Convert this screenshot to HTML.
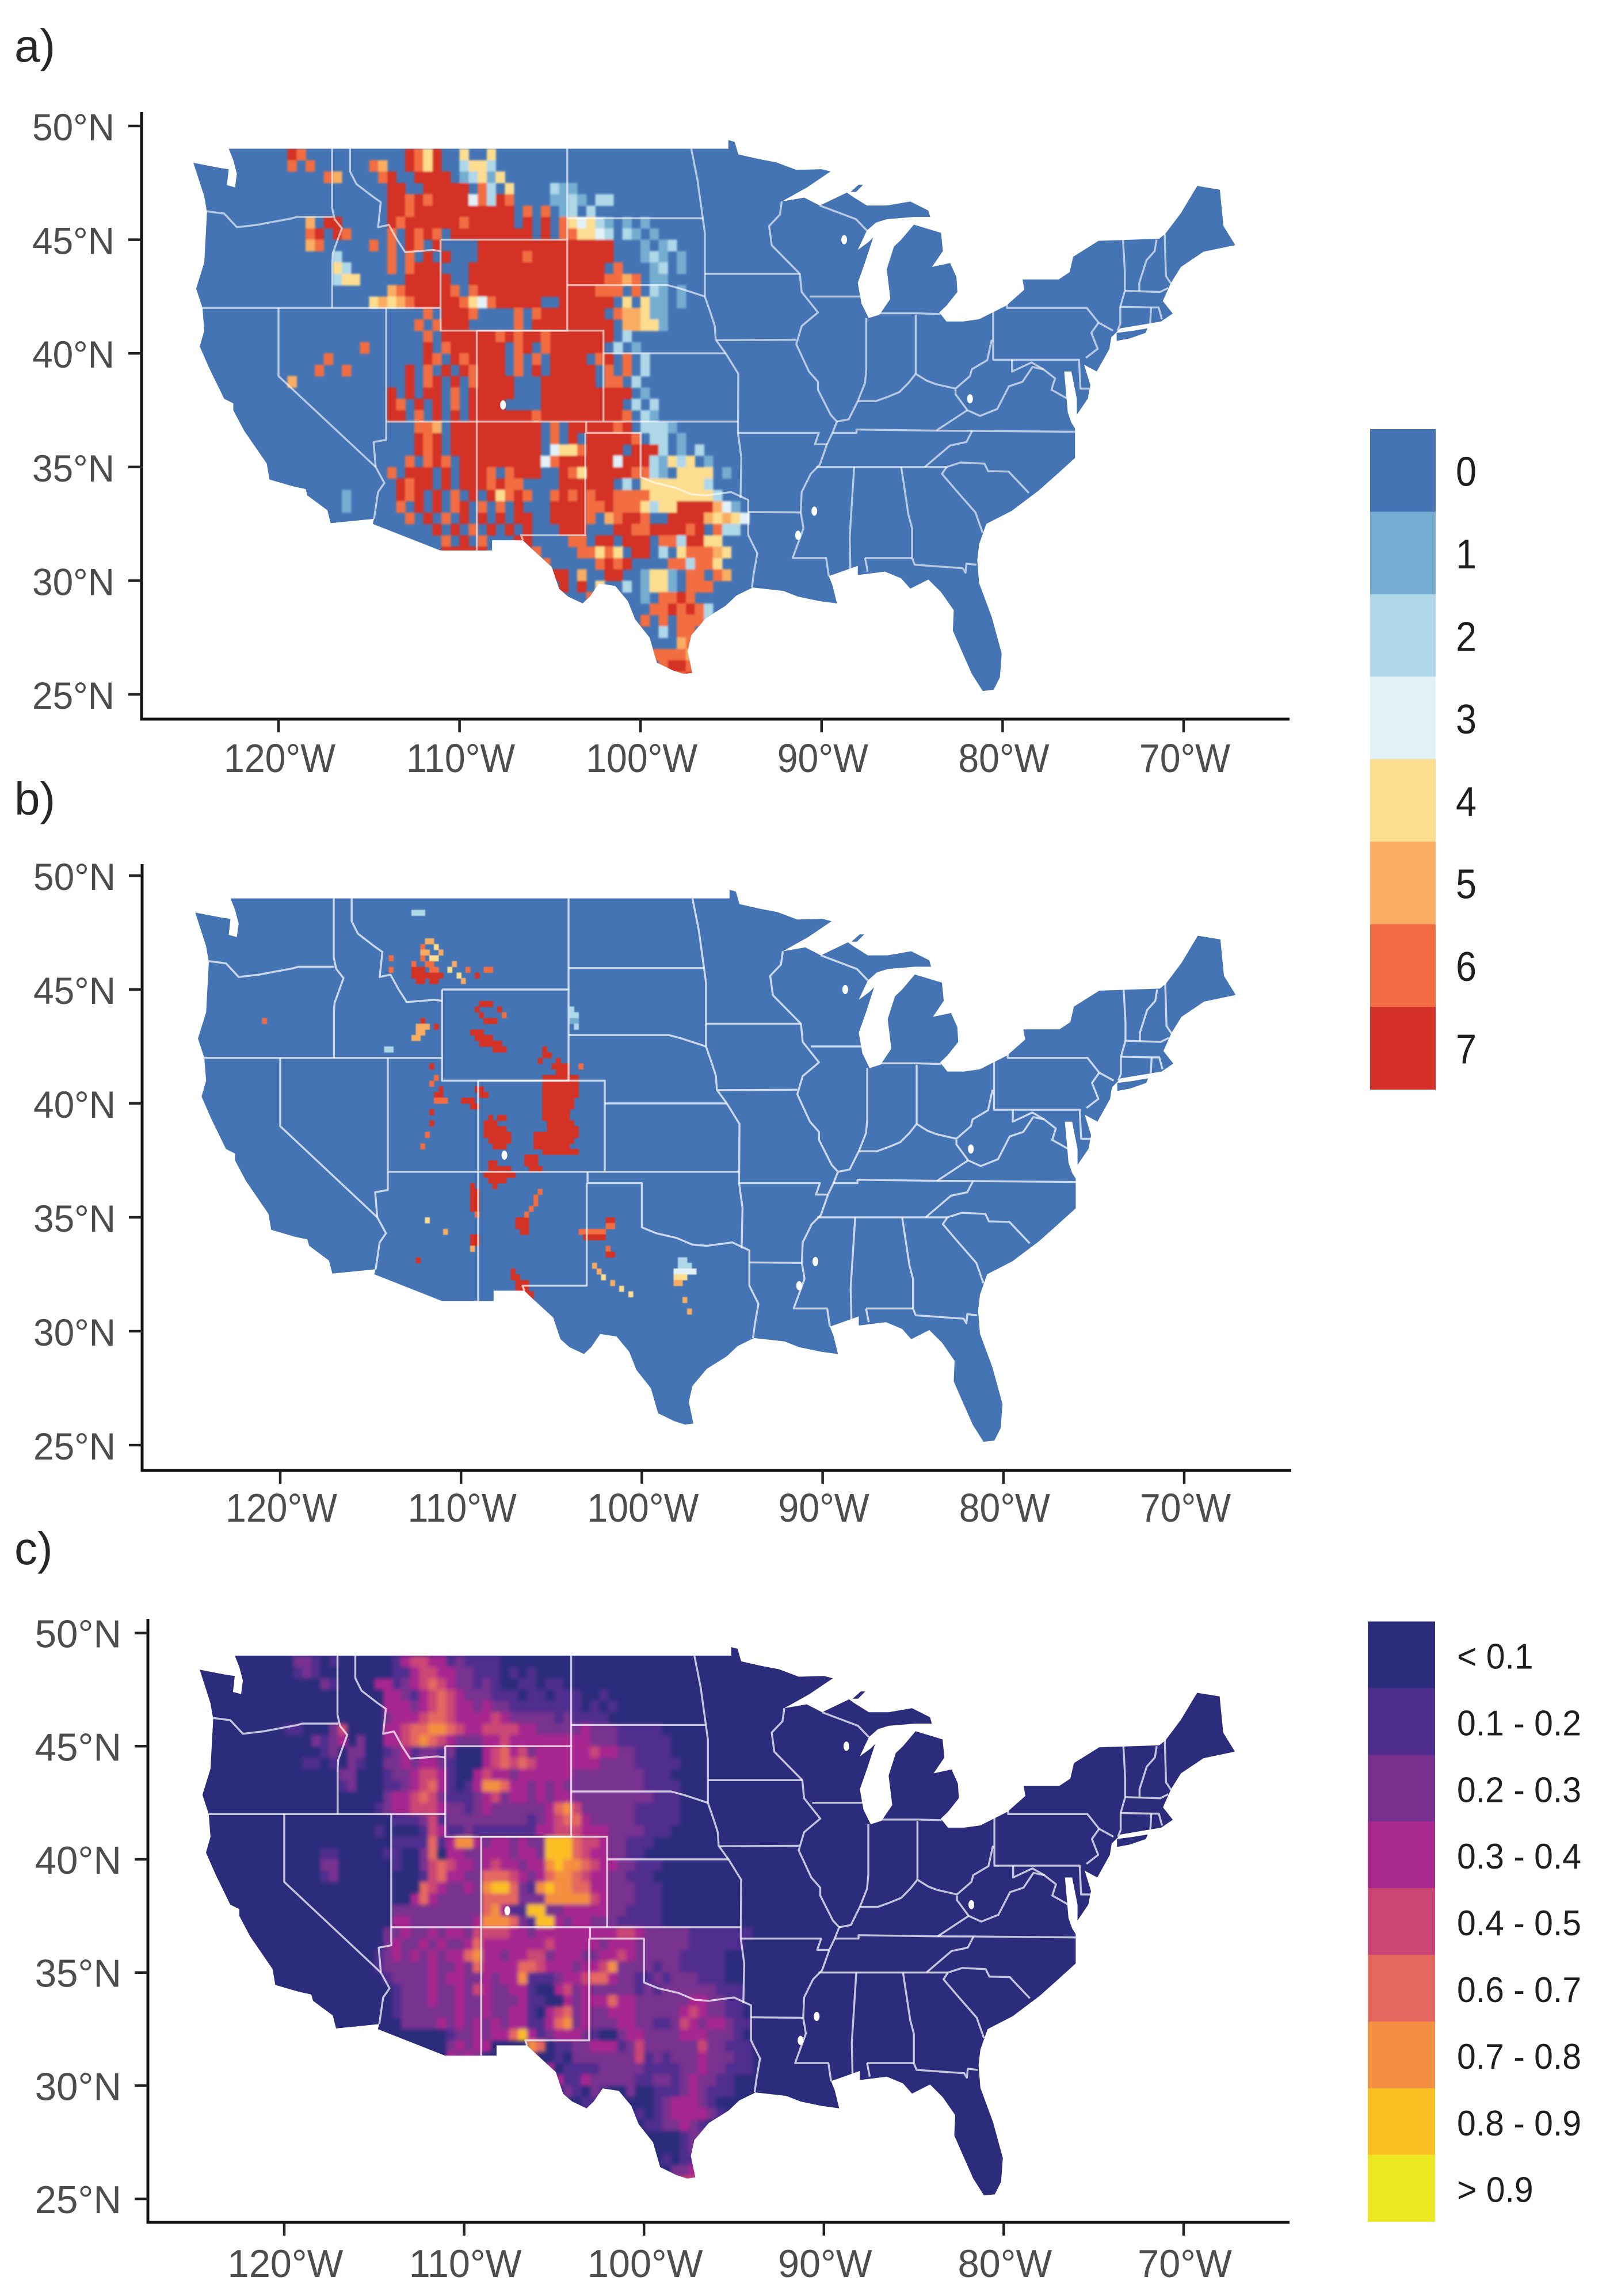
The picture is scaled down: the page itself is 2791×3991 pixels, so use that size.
<!DOCTYPE html>
<html lang="en">
<head>
<meta charset="utf-8">
<title>CONUS maps of classified values</title>
<style>
html,body{margin:0;padding:0;background:#fff;}
svg{display:block;}
text{font-family:"Liberation Sans",sans-serif;}
</style>
</head>
<body>
<svg id="chart" xmlns="http://www.w3.org/2000/svg" width="2791" height="3991" viewBox="0 0 2791 3991">
<rect x="0" y="0" width="2791" height="3991" fill="#ffffff"/>
</svg>
<script>
const lonTickValues = [120, 110, 100, 90, 80, 70];
const latTickValues = [50, 45, 40, 35, 30, 25];
const legendCountLabels = ["0", "1", "2", "3", "4", "5", "6", "7"];
const legendCountColors = ["#4474b4", "#74add1", "#aed8e8", "#e2f1f6", "#fddd8f", "#f9ad63", "#f26d43", "#d53027"];
const legendProbLabels = ["< 0.1", "0.1 - 0.2", "0.2 - 0.3", "0.3 - 0.4", "0.4 - 0.5", "0.6 - 0.7", "0.7 - 0.8", "0.8 - 0.9", "> 0.9"];
const legendProbColors = ["#2b2c7c", "#4f2d8f", "#78308f", "#a8288f", "#cb4675", "#e4685f", "#f48f41", "#fbbf24", "#ebe723"];

/* national outline, lon/lat degrees */
const outlinePoints = [
[-124.7,48.38],[-123.2,48.15],[-122.75,48.1],[-122.85,47.4],[-122.4,47.3],[-122.3,47.9],[-122.5,48.5],[-122.75,49],
[-95.15,49],[-95.15,49.38],[-94.8,49.3],[-94.6,48.75],[-93.5,48.55],[-92.5,48.4],[-91.4,48.07],[-90,48.1],[-89.5,48],
[-90.8,47.3],[-92.2,46.68],[-90.96,46.85],[-90.1,46.5],[-88.6,47.07],[-88.3,46.9],[-87.5,46.5],
[-86.4,46.5],[-85.1,46.68],[-84.1,46.28],[-84,46],[-84.9,46],[-86.4,45.9],[-87,45.75],[-87.5,45.4],
[-88,44.55],[-87.4,44.9],[-87.15,45.1],[-87.6,44],[-88,43.1],[-87.8,42.2],[-87.4,41.55],[-86.8,41.7],[-86.2,42.4],
[-86.4,43.7],[-86,44.7],[-85.6,45],[-84.9,45.66],[-83.4,45.3],[-83.3,44.5],[-83.9,43.8],[-82.9,43.97],
[-82.55,43.35],[-82.5,42.7],[-83.1,42.1],[-83.5,41.8],[-83.1,41.4],[-82.2,41.4],[-81.3,41.5],[-79.8,42.1],
[-78.8,42.8],[-78.9,43.25],[-76.9,43.25],[-76.3,43.57],[-76.1,44.25],[-74.7,44.95],[-71.35,45.04],[-71,45.27],
[-70.15,46.17],[-69.25,47.36],[-68,47.2],[-67.8,45.6],[-67.15,44.76],[-68.9,44.47],[-70.15,43.8],[-70.7,43.1],
[-71.15,42.3],[-70.6,41.75],[-71.25,41.4],[-73.5,41.1],[-74,40.7],[-74.1,40.2],[-74.8,39.2],
[-75.5,39.5],[-75.15,38.6],[-75.3,38],[-75.9,37.3],[-75.9,38],[-76.2,39.2],[-76.6,39.2],[-76.5,38.3],[-76.4,37.4],[-76.2,36.95],
[-76,36.7],[-76,35.4],[-76.9,34.75],[-78,33.97],[-79.5,33.07],[-80.9,32.5],[-81.3,31.6],[-81.4,30.9],
[-81.3,29.9],[-80.6,28.4],[-80.05,26.8],[-80.15,25.75],[-80.5,25.2],[-81.1,25.15],[-81.7,25.9],[-82.2,26.8],[-82.75,27.8],
[-82.7,28.7],[-83.4,29.5],[-84.1,30.05],[-85.1,29.65],[-85.6,30.1],[-86.5,30.4],[-88,30.25],[-88,30.65],[-88.9,30.4],
[-89.6,30.2],[-89.4,29.8],[-89.15,29],[-90.1,29.1],[-91.3,29.3],[-92.1,29.55],[-93.8,29.7],[-94.7,29.35],[-95.3,28.9],
[-96.4,28.35],[-97.2,27.6],[-97.4,26.9],[-97.15,25.95],[-97.6,25.9],[-98.2,26.05],[-99.1,26.4],[-99.5,27.5],[-100.3,28.3],
[-100.7,29.1],[-101.4,29.77],[-102.3,29.88],[-102.8,29.3],[-103.2,29],[-104,29.3],[-104.5,29.65],[-104.9,30.6],[-106,31.4],
[-106.5,31.78],[-108.2,31.78],[-108.2,31.33],[-111.07,31.33],[-114.8,32.5],[-114.72,32.72],[-117.12,32.53],[-117.3,33.1],
[-118.4,33.75],[-118.5,34.03],[-119.2,34.15],[-120.5,34.45],[-120.65,35.15],[-121.9,36.6],[-122.5,37.5],[-122.5,37.8],
[-123,38],[-123.8,39.3],[-124.35,40.3],[-124.1,41],[-124.2,42],[-124.55,42.85],[-124.1,44],[-123.95,46.2],[-124.1,46.9]
];

/* detached land shown in the raster, lon/lat degrees */
const islandLongIsland = [[-73.7,40.9],[-72.9,40.98],[-72,41.1],[-72.1,40.9],[-73,40.65],[-73.7,40.55]];
const islandKeweenaw = [[-88.4,47.1],[-87.95,47.42],[-87.7,47.42],[-88.1,47.1]];

/* state borders, lon/lat degrees */
const stateBorderLines = [
[[-117.04,49],[-117.04,46.4],[-116.9,45.9],[-116.5,45.5],[-117,44.4],[-117.03,44],[-117.03,42]],
[[-124,46.25],[-123,46.15],[-122.3,45.55],[-121.2,45.65],[-119.3,45.93],[-119,46],[-117,46]],
[[-124.2,42],[-111.05,42]],
[[-120,42],[-120,39],[-114.63,35]],
[[-114.05,42],[-114.05,36.2],[-114.75,36.1],[-114.63,35],[-114.15,34.3],[-114.5,33.9],[-114.72,32.72]],
[[-114.05,37],[-94.62,37]],
[[-109.05,41],[-109.05,31.33]],
[[-111.05,45],[-104.05,45],[-104.05,41],[-111.05,41],[-111.05,45]],
[[-109.05,41],[-102.05,41],[-102.05,37]],
[[-116.05,49],[-116.05,48],[-115.7,47.45],[-114.8,46.9],[-114.35,46.65],[-114.5,45.55],[-113.9,45.65],[-113.45,45],[-113,44.45],[-112.2,44.5],[-111.5,44.55],[-111.05,44.5]],
[[-104.05,49],[-104.05,45]],
[[-104.05,45.94],[-96.56,45.94]],
[[-104.05,43],[-98.5,43],[-97.8,42.85],[-96.45,42.5]],
[[-102.05,40],[-95.3,40]],
[[-97.2,49],[-96.85,47.6],[-96.56,45.94],[-96.45,45.3],[-96.45,42.5],[-96.1,41.7],[-95.9,41.2],[-95.85,40.6],[-95.3,40],[-94.6,39.1],[-94.62,36.5],[-94.43,35.4],[-94.48,33.64]],
[[-96.45,43.5],[-91.2,43.5]],
[[-95.8,40.58],[-91.4,40.6]],
[[-103,37],[-103,36.5],[-100,36.5],[-100,34.56],[-99.2,34.3],[-98.1,34.1],[-97.2,33.8],[-96.4,33.75],[-95,33.9],[-94.05,33.55],[-94.05,32],[-93.55,31.2],[-93.75,30.3],[-93.85,29.7]],
[[-103.05,36.5],[-103.05,32],[-106.6,32],[-106.5,31.78]],
[[-94.05,33.02],[-91.15,33]],
[[-94.62,36.5],[-90.15,36.5],[-90.37,36],[-89.7,36]],
[[-92.2,46.68],[-92.3,46.1],[-92.9,45.6],[-92.75,44.75],[-91.2,43.5],[-91.1,42.7],[-90.2,41.8],[-91.1,41.2],[-91.4,40.4],[-90.7,39.2],[-90.2,38.75],[-90.2,38.4],[-89.5,37.3],[-89.15,37],[-89.4,36.5],[-89.7,36],[-90.1,35.1],[-90.6,34.7],[-91.1,33.9],[-91.15,33],[-91,32.3],[-91.6,31],[-89.75,31],[-89.6,30.2]],
[[-90.65,42.5],[-87.8,42.5]],
[[-90.1,46.5],[-88.1,45.9],[-87.5,45.4]],
[[-87.53,41.55],[-87.53,39.3],[-87.6,38.7],[-88,37.9],[-88.5,37.1],[-89.15,37]],
[[-88,37.9],[-87,37.9],[-86.3,38.1],[-85.7,38.3],[-85.2,38.7],[-84.8,39.1],[-84.2,38.8],[-83.7,38.65],[-82.6,38.45],[-81.8,39],[-81.7,39.3],[-80.85,39.7],[-80.6,40.6]],
[[-80.52,41.97],[-80.52,39.72],[-75.78,39.72],[-75.7,38.45],[-75.05,38.45]],
[[-84.8,39.1],[-84.8,41.7]],
[[-87,41.76],[-84.8,41.76],[-83.45,41.73]],
[[-79.76,42.27],[-79.76,42],[-75.35,42],[-74.7,41.35],[-73.9,41]],
[[-74.7,41.35],[-75.1,40.9],[-74.75,40.2],[-75.4,39.8]],
[[-79.48,39.72],[-79.48,39.2],[-78.4,39.6],[-77.75,39.3],[-77.1,38.9],[-77.3,38.4],[-76.3,37.95]],
[[-77.75,39.3],[-78.35,39.4],[-78.9,38.75],[-79.65,38.55],[-80.3,37.55],[-81.25,37.25],[-81.95,37.5],[-82.6,38.2],[-82.6,38.4]],
[[-81.95,37.5],[-83.67,36.6]],
[[-89.4,36.5],[-88.07,36.5],[-88.07,36.65],[-83.67,36.6],[-81.68,36.59],[-76,36.55]],
[[-81.68,36.59],[-82,36.1],[-82.9,35.95],[-84.3,35]],
[[-90.3,35],[-83.1,35],[-82.3,35.2],[-81,35.15],[-80.8,34.82],[-79.67,34.8],[-78.55,33.86]],
[[-83.1,35],[-83.35,34.7],[-82.6,34],[-81.5,33],[-81.1,32.1]],
[[-85.6,35],[-85.2,32.9],[-85,32.3],[-85,31],[-84.85,30.7],[-82.2,30.55],[-82.05,30.35],[-82,30.75],[-81.45,30.7]],
[[-87.6,31],[-85,31]],
[[-87.6,31],[-87.45,30.4]],
[[-88.2,35],[-88.45,31.9],[-88.4,30.25]],
[[-73.35,45],[-73.25,43.6],[-73.25,42.75],[-73.5,42.05],[-73.5,41.3],[-73.65,41]],
[[-71.5,45],[-71.6,44.5],[-72.05,44.1],[-72.45,43.1],[-72.45,42.73]],
[[-73.25,42.75],[-71.3,42.7],[-70.85,42.88]],
[[-73.5,42.05],[-71.8,42.02],[-71.38,42.02],[-71.2,41.5]],
[[-71.8,42.02],[-71.85,41.32]],
[[-71.05,45.3],[-70.98,43.4],[-70.7,43.07]]
];

/* small inland water bodies, lon/lat degrees */
const waterSpotLon = [-107.6, -88.75, -81.8, -90.4, -91.3];
const waterSpotLat = [37.73, 45.0, 38.0, 33.06, 32.0];

/* panel a raster: 0.5 degree rows from 49N, columns from 124W in blocks of ten, '.' = class 0 */
const panelACounts = [
".........7 6......... ..7647..4. .4",
".........6 .6......65 ..7647..24 42",
". ...65....6 7..7777.12 414",
". . 77..77777. 62.4....21 1",
". . 7767677773 6276....11 21.22",
". . 7767777777 7777.6.6.1 2.2",
". .5.77..... 7677777767 7777.7.7.6 43421.1.1",
". .67.76.... 6.7676.777 777777.7.6 64432.21.1",
". .56.....6. 6.76.7.... 7777777777 77777...1. 12",
". ....2..... 6.6.7.7... 7777767777 77777...12 1.1",
". ....42.... 6.6777...7 7777777777 7777.6...1 2.1",
". ....244... ..77777..7 7777777777 77776656.1 1",
". . 56777776.6 7777777777 777666.6.2 1.1",
". ........45 4567777764 3677777..7 77777.4.41 1.1",
". . ....6.7776 ....6.6777 7777.65541 1",
". . ...6.6777. ....6.7777 77777.5544 1",
". . ....6.7777 7767677677 77777.2",
". .......6.. ....7.6777 777.67.677 7777.2.1",
". ...6...... ....76.767 777.6.6.77 77.67.6.2",
". ..6..6.... ..7.6.7.76 777.6.7.77 777.6.6.2",
".........5 . ..7.67.7.6 7777...777 777.66.2",
". . 7.7.77.6.7 7777...777 7777777.1",
". . 76.7.7.6.7 777....777 777777.2.2",
". . 77.6.7.7.7 7777776777 7777776.21",
". . ...665.777 7777777.6. 7777767.22 21",
". . ...767.777 7777777.6. 7.777776.2 2.1",
". . ...767.777 7777777.34 467777.777 2.1.2",
". . ..6.676.77 7777777367 7777737772 1424.1",
". . 6.777.7.77 76.6777..7 6477777662 1.4444.1",
". . .7677.7.77 76766....7 77777.2.44 444442",
". .....1.... .767.7.6.7 .74676..67 6767766664 4444442",
". .....1.... .6.7.7.67. 6.6.7...77 7766766642 447777531",
". . ..6.7.6.7. 7.7.77..77 776.56776. .777754543",
". . .....7.7.6 .7.7.7...7 77...77667 77767.622",
". . ......6.7. 6...77.... 66.77.777. 6627744",
". . ......7777 7.....6... .66464.77. 2.466654",
". . . .......6.. ...6767... .662664",
". . . ........77 .5..77..14 41.66.65",
". . . .........7 .7.4..2.14 41.666",
". . . . ..6.....1. 6676",
". . . . .........6 676762",
". . . . ........6. 6.6662",
". . . . . 2.66",
". . . . . ..565",
". . . . .........6 66656",
". . . . . 6776.6",
". . . . . .6676"
];

/* panel c raster: same grid, digits index the probability legend, '.' = class 0 */
const panelCProbs = [
".........2 21.1...... 1344331211 11",
".........1 21........ 1134433221 11.1.1",
". ..21....33 1234543221 21..11.11",
". .........3 3213454322 2111.11.11 1..1",
". .........3 3323454332 3221111111 1.1.1",
". .........2 3334554333 3432222212 1111",
"........11 ...24....3 3455665433 4444332222 2322211111",
". .2123.2..3 3456543222 3343333333 3322211111 1",
". ..12.22..1 2312212... 3453423333 3343322111 1",
". 11.1.21..2 2323321... 3454543333 3332222111 11",
". ....22...1 2234431..3 4332333333 2222222211 1",
". ....12...1 1234531.13 6653323232 2222222211 11",
". .........2 3345421112 3423323233 2222222221 11",
". ........12 3344432212 3222222356 4222222111 11",
". . 1112412222 2222212345 5322222111 11",
". ........1. ...1431121 1111113344 4333222211 1",
". . 1111513663 2332322777 544322111",
". ..11.....1 1..25.3322 3332332777 54332211",
". ..22...... 1..2454332 3433233676 6543322111",
". ..12...... ...1453322 5554323566 543322111",
". . ...5432232 6775216766 5533222111",
". . ..35322222 5555222666 6643222111",
". . 2222222222 5631177223 3333221111",
". . 3322222223 6665217732 3322211111",
". .........2 2322323324 4443323333 3333344322 2221111111",
". .........2 3223232235 3333333433 3332333222 222111111",
". ........12 3232323356 3323344233 3223343222 2211111",
". ........12 2222322325 3333554333 2334622221 2211111",
". .........1 2222323322 3233611123 3455322112 1222111",
". . 1222322324 322331..34 2322222121 222222111",
". . 1222322322 3222311..3 2333533222 222332211",
". . 1222222322 322331.345 2322333222 223432211",
". . .222232323 2323311356 2322233221 1243233211",
". . ......1223 2335731233 321..23322 223332221",
". . ......2323 3....65.11 2233312422 2222422111",
". . ......3232 .....4..1. 2222222412 1222322211",
". . . .......3.1 1112222211 1122322111",
". . . ........31 1322222112 21232211",
". . . .........2 1.21..2..1 11232111",
". . . . .11......1 233321",
". . . . .......1.1 2333321",
". . . . ........11 22321",
". . . . . ..1221",
". . . . . ..1221",
". . . . . 1.1121",
". . . . . .22332",
". . . . . .3443"
];

/* panel b sparse 0.25 degree runs: top latitude, west longitude, cell count, class */
const bRunLat = [48.5,47.25,47,47,46.75,46.75,46.5,46.5,46.25,46.25,46.25,46,46,46,46,46,45.75,45.75,45.75,45.5,45.5,45.5,46.5,46,
44.5,44.25,44.25,44,44,43.75,43.25,43,42.75,42.5,43.75,43.5,43.25,43,43.5,42.5,44.25,44,43.75,43.5,
42.5,42.25,42,42,41.75,41.75,41.5,41.25,41,40.75,40.5,40.25,40,39.75,39.5,39.25,39,38.75,38.75,38.5,38.25,38,
39.5,39.5,39.25,39,38.75,38.5,38.25,37.5,37.25,37,36.75,36.5,37.75,37.5,37.25,
41.75,41.25,41,40.75,40.5,40.25,40.25,40,39.75,39.25,38.75,38.25,40.75,40.5,
36.5,36.25,36,35.75,35.5,35.25,35,34.75,34.5,36.25,36,35.75,35.5,35.25,34.25,34,33.75,33.25,34.5,35,
35,34.75,34.5,34.25,33.75,33.5,33,32.75,32.5,32.25,32,31.75,
32.75,32.5,32.25,32,31.75,31.5,33.25,33,32.75,32.5,32.25,31.5,31,43.75];
const bRunLon = [-112.75,-112,-112.25,-111.5,-112.25,-111.25,-112.25,-111.75,-112.75,-112,-110.5,-112.75,-111.75,-110.75,-109.75,-108.75,-112.75,-110.25,-109.25,-112.5,-111.75,-110,-114,-114,
-109,-109.25,-108,-109,-107.75,-108.75,-109.5,-109.25,-109,-108.25,-112.25,-112.5,-112.5,-112.75,-111.5,-114.25,-104,-104,-104,-103.75,
-105.5,-105.5,-105.75,-104.75,-105,-103.5,-104.75,-105.5,-105.5,-105.5,-105.5,-105.5,-105.5,-105.5,-105.5,-105.25,-105.25,-106,-105.25,-106,-106,-105.5,
-108.5,-108,-108.75,-108.75,-108.75,-108.5,-108.25,-108.5,-108.5,-108.75,-108.5,-108.25,-106.5,-106.5,-106.25,
-111.75,-111.5,-111.75,-111.25,-111.5,-111.5,-110,-109.5,-111.75,-111.75,-112,-112.25,-109.25,-109,
-109.5,-109.5,-109.5,-109.5,-109.5,-109.25,-107,-107,-106.75,-105.75,-106,-106,-106.25,-106.5,-109.5,-109.5,-109.5,-112.5,-111,-112,
-102,-102,-103.5,-103.25,-102,-102,-102.75,-102.5,-102.25,-101.75,-101.25,-100.75,
-107.25,-107.25,-107,-107,-106.75,-106.5,-98,-98,-98.25,-98.25,-98.25,-97.75,-97.5,-121];
const bRunLen = [3,2,1,1,2,1,1,2,1,2,1,3,2,1,1,2,7,1,1,2,2,1,1,1,
3,1,1,1,1,3,3,4,5,3,1,3,2,2,1,2,1,2,2,1,
1,2,1,1,4,1,3,8,8,8,8,7,7,6,6,6,7,3,7,9,8,8,
1,2,3,5,6,5,3,2,5,7,4,1,3,3,3,
1,1,1,1,2,3,3,2,1,1,1,1,2,2,
1,2,2,2,2,1,3,3,2,1,1,1,1,1,2,2,1,1,1,1,
2,2,6,5,1,2,1,1,1,1,1,1,
1,2,3,3,3,2,2,3,5,3,2,1,1,1];
const bRunClass = [2,5,6,4,5,5,6,4,6,6,5,7,6,4,6,6,7,4,7,7,7,5,6,6,
7,7,7,7,6,7,7,7,7,7,7,5,5,5,7,2,2,2,1,2,
7,7,7,7,7,6,7,7,7,7,7,7,7,7,7,7,7,7,7,7,7,7,
7,7,7,7,7,7,7,7,7,7,7,7,7,7,7,
7,6,6,7,7,6,7,7,7,7,6,6,7,7,
7,7,7,7,7,6,7,7,7,6,6,6,6,6,7,7,5,7,5,4,
7,6,6,7,6,7,5,5,4,5,4,4,
7,7,7,7,7,7,2,2,3,4,5,5,5,6];

const SVG_NS = "http://www.w3.org/2000/svg";
const root = document.getElementById("chart");

function mk(tag, attrs, parent) {
  const el = document.createElementNS(SVG_NS, tag);
  for (const k in attrs) el.setAttribute(k, attrs[k]);
  parent.appendChild(el);
  return el;
}

function drawLabel(parent, str, x, y, size, scaleX, anchor, fill) {
  const t = mk("text", {
    transform: "translate(" + x + " " + y + ") scale(" + scaleX + " 1)",
    "font-size": size, "text-anchor": anchor, fill: fill
  }, parent);
  t.textContent = str;
  return t;
}

function expandRow(row) {
  return row.split(" ").map(function (block) {
    return block.slice(0, 10).padEnd(10, ".");
  }).join("");
}

const panels = [
  {id:"a", x0:484, kx:31.46, y0:219,    ky:39.52, axisX:246, axisEnd:2241, top:195,  bottom:1250, base:"#4474b4", colors:legendCountColors, blur:1.6, line:0.62, xBase:1342, xSize:70, xScale:0.92, ySize:66, yScale:0.97, yRight:199, letter:"a)", letterY:107},
  {id:"b", x0:487, kx:31.42, y0:1522,   ky:39.6,  axisX:247, axisEnd:2244, top:1502, bottom:2556, base:"#4474b4", colors:legendCountColors, blur:0.7, line:0.72, xBase:2645, xSize:70, xScale:0.92, ySize:66, yScale:0.97, yRight:201, letter:"b)", letterY:1416},
  {id:"c", x0:494, kx:31.26, y0:2838.6, ky:39.34, axisX:257, axisEnd:2241, top:2814, bottom:3863, base:"#2b2c7c", colors:legendProbColors,  blur:3.5, line:0.72, xBase:3958, xSize:68, xScale:0.98, ySize:68, yScale:0.99, yRight:211, letter:"c)", letterY:2719}
];

panels.forEach(function (p) {
  const lonX = function (lon) { return p.x0 + (lon + 120) * p.kx; };
  const latY = function (lat) { return p.y0 + (50 - lat) * p.ky; };
  const shapeD = function (pts) {
    return pts.map(function (pt, i) {
      return (i ? "L" : "M") + lonX(pt[0]).toFixed(1) + " " + latY(pt[1]).toFixed(1);
    }).join("") + "Z";
  };

  const g = mk("g", {}, root);
  
  

  const letter = drawLabel(g, p.letter, 25, p.letterY, 80, 1, "start", "#262626");
  
  

  const outlineD = shapeD(outlinePoints) + shapeD(islandLongIsland) + shapeD(islandKeweenaw);

  const defs = mk("defs", {}, g);
  const clip = mk("clipPath", {id: "clip-" + p.id}, defs);
  mk("path", {d: outlineD}, clip);
  const filter = mk("filter", {id: "soft-" + p.id, x: "0", y: "0", width: "2791", height: "3991", filterUnits: "userSpaceOnUse"}, defs);
  mk("feGaussianBlur", {stdDeviation: p.blur}, filter);

  const land = mk("path", {d: outlineD, fill: p.base}, g);
  
  

  const clipped = mk("g", {"clip-path": "url(#clip-" + p.id + ")"}, g);
  
  
  const raster = mk("g", {filter: "url(#soft-" + p.id + ")", "shape-rendering": "crispEdges"}, clipped);
  
  

  function drawCell(lon, lat, dLon, dLat, cls) {
    const r = mk("rect", {
      x: lonX(lon).toFixed(1),
      y: latY(lat).toFixed(1),
      width: (dLon * p.kx + 0.6).toFixed(1),
      height: (dLat * p.ky + 0.6).toFixed(1),
      fill: p.colors[cls]
    }, raster);
    
    
  }

  if (p.id === "b") {
    bRunLat.forEach(function (lat, i) {
      for (let n = 0; n < bRunLen[i]; n++) {
        drawCell(bRunLon[i] + n * 0.25, lat, 0.25, 0.25, bRunClass[i]);
      }
    });
  } else {
    const rows = p.id === "a" ? panelACounts : panelCProbs;
    rows.forEach(function (rawRow, r) {
      const row = expandRow(rawRow);
      for (let c = 0; c < row.length; c++) {
        const ch = row[c];
        if (ch === ".") continue;
        drawCell(-124 + c * 0.5, 49 - r * 0.5, 0.5, 0.5, parseInt(ch, 10));
      }
    });
  }

  stateBorderLines.forEach(function (line) {
    const pts = line.map(function (pt) { return lonX(pt[0]).toFixed(1) + "," + latY(pt[1]).toFixed(1); }).join(" ");
    const border = mk("polyline", {points: pts, fill: "none", stroke: "#ffffff", "stroke-width": 3.4, "stroke-opacity": p.line, "stroke-linejoin": "round"}, g);
    
    
  });

  waterSpotLon.forEach(function (lon, i) {
    const spot = mk("ellipse", {cx: lonX(lon).toFixed(1), cy: latY(waterSpotLat[i]).toFixed(1), rx: 5, ry: 8, fill: "#ffffff"}, g);
    
    
  });

  const yAxis = mk("line", {x1: p.axisX, x2: p.axisX, y1: p.top, y2: p.bottom + 2.5, stroke: "#111111", "stroke-width": 5}, g);
  
  
  const xAxis = mk("line", {x1: p.axisX, x2: p.axisEnd, y1: p.bottom, y2: p.bottom, stroke: "#111111", "stroke-width": 5}, g);
  
  

  lonTickValues.forEach(function (v) {
    const x = lonX(-v);
    const tick = mk("line", {x1: x, x2: x, y1: p.bottom, y2: p.bottom + 23, stroke: "#222222", "stroke-width": 4.5}, g);
    
    
    const label = drawLabel(g, v + "°W", x + 2, p.xBase, p.xSize, p.xScale, "middle", "#4d4d4d");
    
    
  });

  latTickValues.forEach(function (v) {
    const y = latY(v);
    const tick = mk("line", {x1: p.axisX - 23, x2: p.axisX, y1: y, y2: y, stroke: "#222222", "stroke-width": 4.5}, g);
    
    
    const label = drawLabel(g, v + "°N", p.yRight, y + 25, p.ySize, p.yScale, "end", "#4d4d4d");
    
    
  });
});

function drawLegend(name, labels, colors, x, top, width, itemH, textX, size, scaleX, baseOffset) {
  const g = mk("g", {}, root);
  
  
  labels.forEach(function (lab, i) {
    const swatch = mk("rect", {x: x, y: (top + i * itemH).toFixed(1), width: width, height: (itemH + 0.6).toFixed(1), fill: colors[i], "shape-rendering": "crispEdges"}, g);
    
    
    const text = drawLabel(g, lab, textX, top + i * itemH + itemH / 2 + baseOffset, size, scaleX, "start", "#1f1f1f");
    
    
  });
}

drawLegend("legend-counts", legendCountLabels, legendCountColors, 2381, 746, 114, 143.4, 2530, 72, 0.9, 27);
drawLegend("legend-probability", legendProbLabels, legendProbColors, 2377, 2818.5, 117, 115.9, 2532, 62, 0.95, 24);
</script>
</body>
</html>
